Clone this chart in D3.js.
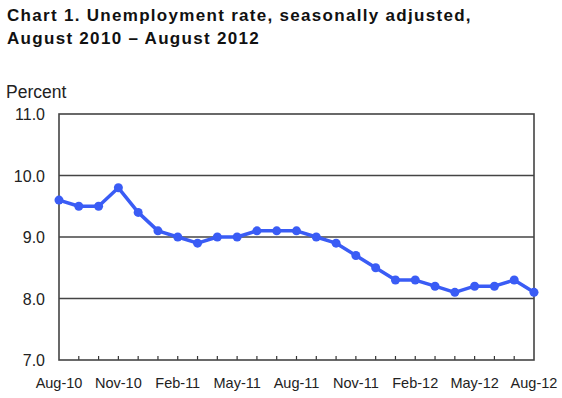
<!DOCTYPE html>
<html>
<head>
<meta charset="utf-8">
<script src="https://cdn.jsdelivr.net/npm/d3@7"></script>
<style>
  body { margin: 0; background: #fff; }
  svg { display: block; font-family: Arial, "Liberation Sans", sans-serif; }
</style>
</head>
<body>
<svg id="chart" width="562" height="398"></svg>
<script>
const months = ['Aug-10','Sep-10','Oct-10','Nov-10','Dec-10','Jan-11','Feb-11','Mar-11','Apr-11','May-11','Jun-11','Jul-11','Aug-11',
  'Sep-11','Oct-11','Nov-11','Dec-11','Jan-12','Feb-12','Mar-12','Apr-12','May-12','Jun-12','Jul-12','Aug-12'];
const rates = [9.6, 9.5, 9.5, 9.8, 9.4, 9.1, 9.0, 8.9, 9.0, 9.0, 9.1, 9.1, 9.1,
  9.0, 8.9, 8.7, 8.5, 8.3, 8.3, 8.2, 8.1, 8.2, 8.2, 8.3, 8.1];
const yTicks = [7, 8, 9, 10, 11];
const xLabels = ['Aug-10','Nov-10','Feb-11','May-11','Aug-11','Nov-11','Feb-12','May-12','Aug-12'];

const margin = {top: 114, right: 28, bottom: 38, left: 59};
const svg = d3.select('#chart');
const width = 562, height = 398;
const innerW = width - margin.left - margin.right;
const innerH = height - margin.top - margin.bottom;

const g = svg.append('g').attr('transform', `translate(${margin.left},${margin.top})`);

const x = d3.scalePoint().domain(months).range([0, innerW]);
const y = d3.scaleLinear().domain([7, 11]).range([innerH, 0]);

// title
svg.append('text').attr('x', 7).attr('y', 21)
  .attr('font-weight', 'bold').attr('font-size', 17).attr('letter-spacing', 1.3).attr('fill', '#111')
  .text('Chart 1. Unemployment rate, seasonally adjusted,');
svg.append('text').attr('x', 7).attr('y', 44)
  .attr('font-weight', 'bold').attr('font-size', 17).attr('letter-spacing', 1.3).attr('fill', '#111')
  .text('August 2010 \u2013 August 2012');
svg.append('text').attr('x', 6).attr('y', 98)
  .attr('font-size', 17.5).attr('fill', '#222').text('Percent');

// gridlines
g.selectAll('.grid').data(yTicks.slice(1, -1)).join('line')
  .attr('x1', 0).attr('x2', innerW)
  .attr('y1', d => y(d)).attr('y2', d => y(d))
  .attr('stroke', '#444').attr('stroke-width', 1.3);

// y labels
g.selectAll('.ylab').data(yTicks).join('text')
  .attr('x', -14).attr('y', d => y(d) + 6)
  .attr('text-anchor', 'end').attr('font-size', 16).attr('fill', '#222')
  .text(d => d3.format('.1f')(d));

// x ticks (inside, pointing up)
g.selectAll('.xtick').data(months.slice(1, -1)).join('line')
  .attr('x1', d => x(d)).attr('x2', d => x(d))
  .attr('y1', innerH).attr('y2', innerH - 4)
  .attr('stroke', '#333').attr('stroke-width', 1.2);

// x labels
g.selectAll('.xlab').data(xLabels).join('text')
  .attr('x', d => x(d)).attr('y', innerH + 28)
  .attr('text-anchor', 'middle').attr('font-size', 14.5).attr('fill', '#222')
  .text(d => d);

// frame
g.append('rect').attr('x', 0).attr('y', 0).attr('width', innerW).attr('height', innerH)
  .attr('fill', 'none').attr('stroke', '#444').attr('stroke-width', 1.6);

// line
const line = d3.line().x((d, i) => x(months[i])).y(d => y(d));
g.append('path').datum(rates).attr('d', line)
  .attr('fill', 'none').attr('stroke', '#3a5cf5').attr('stroke-width', 3.5)
  .attr('stroke-linejoin', 'round');
g.selectAll('.pt').data(rates).join('circle')
  .attr('cx', (d, i) => x(months[i])).attr('cy', d => y(d)).attr('r', 4.5)
  .attr('fill', '#3a5cf5');
</script>
</body>
</html>
